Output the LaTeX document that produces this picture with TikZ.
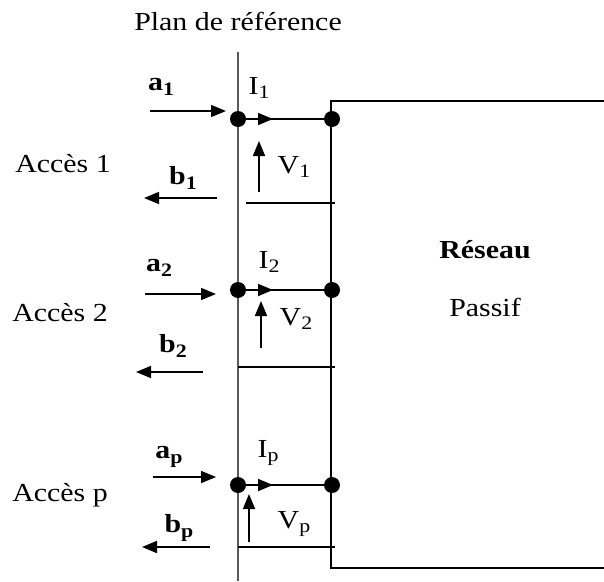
\documentclass[tikz,border=0pt]{standalone}
\usepackage{fontspec}
\setmainfont{Liberation Serif}[FakeStretch=1.15]
\usetikzlibrary{arrows.meta}
\newcommand\sublab[2]{#1\raisebox{-0.4ex}{\fontsize{19}{19}\selectfont #2}}
\begin{document}
\begin{tikzpicture}[x=1pt,y=-1pt,
  txt/.style={font=\fontsize{26}{30}\selectfont, inner sep=0pt},
  wire/.style={line width=1.6pt},
  sig/.style={line width=1.6pt,-{Triangle[length=15pt,width=12pt]}},
  dot/.style={circle,fill=black,inner sep=0pt,minimum size=16pt}]
\useasboundingbox (0,0) rectangle (604,581);
% reference plane
\coordinate (pt) at (238,52);
\coordinate (pb) at (238,581);
\draw[line width=1.2pt,black!65] (pt) -- (pb);
\node[txt] (plan) at (238,21) {Plan de référence};
% network box
\coordinate (bx1) at (604,101);
\coordinate (bx2) at (331,101);
\coordinate (bx3) at (331,568);
\coordinate (bx4) at (604,568);
\draw[wire] (bx1) -- (bx2) -- (bx3) -- (bx4);
\node[txt,font=\fontsize{26}{30}\selectfont\bfseries] (res) at (485,250) {Réseau};
\node[txt] (pas) at (485,307) {Passif};
% ---- port 1
\node[dot] (L1) at (238,119) {};
\node[dot] (R1) at (332,119) {};
\draw[wire] (L1) -- (R1);
\coordinate (I1e) at (273,119);
\draw[sig] (L1.center) -- (I1e);
\coordinate (B1s) at (246,203); \coordinate (B1e) at (335,203);
\draw[wire] (B1s) -- (B1e);
\coordinate (V1s) at (259,192); \coordinate (V1e) at (259,141);
\draw[sig] (V1s) -- (V1e);
\coordinate (a1s) at (150,111); \coordinate (a1e) at (226,111);
\draw[sig] (a1s) -- (a1e);
\coordinate (b1s) at (217,198); \coordinate (b1e) at (144,198);
\draw[sig] (b1s) -- (b1e);
\node[txt] (ta1) at (161,87) {\bfseries\sublab{a}{1}};
\node[txt] (tI1) at (259,88) {\sublab{I}{1}};
\node[txt] (tV1) at (294,167) {\sublab{V}{1}};
\node[txt] (tb1) at (183,178) {\bfseries\sublab{b}{1}};
\node[txt] (acc1) at (63,164) {Accès 1};
% ---- port 2
\node[dot] (L2) at (238,290) {};
\node[dot] (R2) at (332,290) {};
\draw[wire] (L2) -- (R2);
\coordinate (I2e) at (273,290);
\draw[sig] (L2.center) -- (I2e);
\coordinate (B2s) at (238,367); \coordinate (B2e) at (335,367);
\draw[wire] (B2s) -- (B2e);
\coordinate (V2s) at (261,348); \coordinate (V2e) at (261,301);
\draw[sig] (V2s) -- (V2e);
\coordinate (a2s) at (145,294); \coordinate (a2e) at (216,294);
\draw[sig] (a2s) -- (a2e);
\coordinate (b2s) at (203,372); \coordinate (b2e) at (136,372);
\draw[sig] (b2s) -- (b2e);
\node[txt] (ta2) at (159,268) {\bfseries\sublab{a}{2}};
\node[txt] (tI2) at (269,262) {\sublab{I}{2}};
\node[txt] (tV2) at (296,319) {\sublab{V}{2}};
\node[txt] (tb2) at (173,346) {\bfseries\sublab{b}{2}};
\node[txt] (acc2) at (60,313) {Accès 2};
% ---- port p
\node[dot] (Lp) at (238,485) {};
\node[dot] (Rp) at (332,485) {};
\draw[wire] (Lp) -- (Rp);
\coordinate (Ipe) at (273,485);
\draw[sig] (Lp.center) -- (Ipe);
\coordinate (Bps) at (238,547); \coordinate (Bpe) at (335,547);
\draw[wire] (Bps) -- (Bpe);
\coordinate (Vps) at (249,542); \coordinate (Vpe) at (249,494);
\draw[sig] (Vps) -- (Vpe);
\coordinate (aps) at (153,477); \coordinate (ape) at (216,477);
\draw[sig] (aps) -- (ape);
\coordinate (bps) at (210,547); \coordinate (bpe) at (142,547);
\draw[sig] (bps) -- (bpe);
\node[txt] (tap) at (169,457) {\bfseries\sublab{a}{p}};
\node[txt] (tIp) at (268,453) {\sublab{I}{p}};
\node[txt] (tVp) at (294,524) {\sublab{V}{p}};
\node[txt] (tbp) at (179,528) {\bfseries\sublab{b}{p}};
\node[txt] (accp) at (60,495) {Accès p};
\end{tikzpicture}
\end{document}
